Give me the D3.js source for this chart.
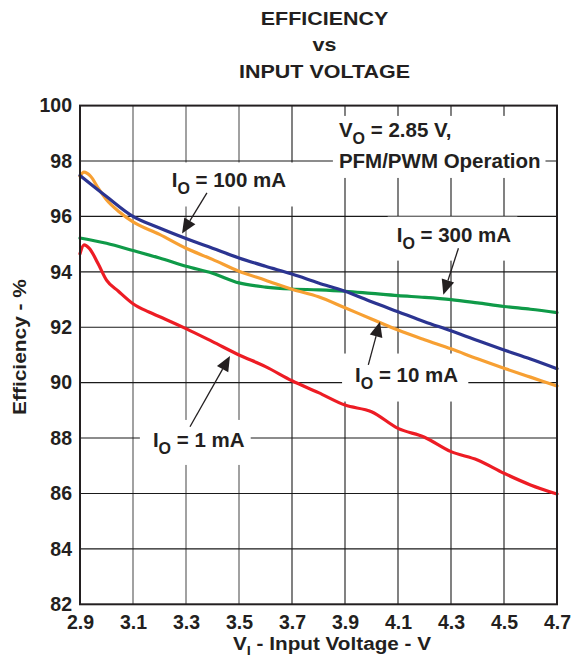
<!DOCTYPE html>
<html>
<head>
<meta charset="utf-8">
<script src="https://cdn.jsdelivr.net/npm/d3@7/dist/d3.min.js"></script>
<style>
  html, body { margin: 0; padding: 0; background: #fff; }
  svg text { font-family: "Liberation Sans", Arial, Helvetica, sans-serif; font-weight: bold; fill: #231f20; }
</style>
</head>
<body>
<svg id="chart" width="582" height="665"></svg>
<script>
// ---------------- DATA ----------------
const titleLines = ["EFFICIENCY", "vs", "INPUT VOLTAGE"];
const xTicks = [2.9, 3.1, 3.3, 3.5, 3.7, 3.9, 4.1, 4.3, 4.5, 4.7];
const yTicks = [82, 84, 86, 88, 90, 92, 94, 96, 98, 100];

// I_O = 100 mA (blue)
const io100V   = [2.9, 3.0, 3.1, 3.2, 3.3, 3.4, 3.5, 3.6, 3.7, 3.8, 3.9, 4.0, 4.1, 4.2, 4.3, 4.4, 4.5, 4.6, 4.7];
const io100Eff = [97.48, 96.72, 96.0, 95.58, 95.2, 94.85, 94.5, 94.2, 93.92, 93.6, 93.3, 92.92, 92.56, 92.2, 91.87, 91.52, 91.18, 90.85, 90.5];

// I_O = 10 mA (orange)
const io10V   = [2.9, 2.915, 2.94, 2.97, 3.0, 3.05, 3.1, 3.2, 3.3, 3.4, 3.5, 3.6, 3.7, 3.8, 3.9, 4.0, 4.1, 4.2, 4.3, 4.4, 4.5, 4.6, 4.7];
const io10Eff = [97.45, 97.6, 97.45, 97.0, 96.6, 96.15, 95.8, 95.35, 94.85, 94.45, 94.02, 93.7, 93.37, 93.1, 92.7, 92.3, 91.9, 91.55, 91.22, 90.86, 90.52, 90.2, 89.88];

// I_O = 300 mA (green)
const io300V   = [2.9, 3.0, 3.1, 3.2, 3.3, 3.4, 3.5, 3.6, 3.7, 3.8, 3.9, 4.0, 4.1, 4.2, 4.3, 4.4, 4.5, 4.6, 4.7];
const io300Eff = [95.22, 95.03, 94.77, 94.5, 94.2, 93.95, 93.6, 93.45, 93.38, 93.35, 93.3, 93.22, 93.14, 93.08, 93.0, 92.88, 92.75, 92.65, 92.53];

// I_O = 1 mA (red)
const io1V   = [2.9, 2.915, 2.935, 2.968, 3.0, 3.045, 3.1, 3.16, 3.22, 3.3, 3.4, 3.5, 3.6, 3.7, 3.8, 3.9, 4.0, 4.1, 4.2, 4.3, 4.4, 4.5, 4.6, 4.7];
const io1Eff = [94.65, 94.97, 94.85, 94.3, 93.7, 93.3, 92.85, 92.55, 92.3, 91.95, 91.48, 91.0, 90.58, 90.07, 89.64, 89.19, 88.95, 88.35, 88.03, 87.51, 87.21, 86.73, 86.31, 85.98];

const seriesNames  = ["I_O = 1 mA", "I_O = 300 mA", "I_O = 10 mA", "I_O = 100 mA"];
const seriesColors = ["#ed1c24", "#0f9a48", "#f7a033", "#2b3491"];

// annotations (text position, arrow from -> tip), all in data units
const annotations = [
  { sub: "O", main: " = 100 mA", tx: 3.246, ty: 97.08, fromX: 3.379, fromY: 96.85, tipX: 3.285, tipY: 95.38, pad: [11, 5, 10, 10] },
  { sub: "O", main: " = 300 mA", tx: 4.095, ty: 95.09, fromX: 4.328, fromY: 94.85, tipX: 4.271, tipY: 93.17, pad: [9, 6, 6, 9] },
  { sub: "O", main: " = 10 mA",  tx: 3.938, ty: 90.04, fromX: 3.988, fromY: 90.64, tipX: 4.032, tipY: 92.20, pad: [13, 9, 10, 10] },
  { sub: "O", main: " = 1 mA",   tx: 3.175, ty: 87.68, fromX: 3.315, fromY: 88.41, tipX: 3.466, tipY: 90.96, pad: [13, 8, 6, 8] }
];
const conditionLines = ["= 2.85 V,", "PFM/PWM Operation"];
const conditionPos = { x: 3.877, y1: 98.87, y2: 97.75 };

// ---------------- CHART ----------------
const svg = d3.select("#chart");
const margin = { left: 80, top: 105.6, right: 557, bottom: 604.3 };

const x = d3.scaleLinear().domain([2.9, 4.7]).range([margin.left, margin.right]);
const y = d3.scaleLinear().domain([82, 100]).range([margin.bottom, margin.top]);

// place a text element with a horizontal stretch (reference glyphs are wider)
function placeText(sel, px, py, sx, rot) {
  return sel.attr("x", 0).attr("y", 0)
    .attr("transform", `translate(${px},${py})${rot ? ` rotate(${rot})` : ""} scale(${sx},1)`);
}

// Title
svg.append("g").selectAll("text").data(titleLines).join("text")
  .each(function (d, i) { placeText(d3.select(this), 324.5, 24.5 + i * 26.7, 1.13); })
  .attr("text-anchor", "middle").attr("font-size", 19)
  .text(d => d);

// Gridlines
const grid = svg.append("g");
grid.selectAll("line.v").data(xTicks.slice(1, -1)).join("line")
  .attr("class", "v")
  .attr("x1", d => x(d)).attr("x2", d => x(d))
  .attr("y1", y(100)).attr("y2", y(82))
  .attr("stroke", d => d <= 3.6 ? "#8a8a8a" : "#1a1a1a")
  .attr("stroke-width", d => d <= 3.6 ? 1.6 : 1.1);
grid.selectAll("line.h").data(yTicks.slice(1, -1)).join("line")
  .attr("class", "h")
  .attr("x1", x(2.9)).attr("x2", x(4.7))
  .attr("y1", d => y(d)).attr("y2", d => y(d))
  .attr("stroke", "#1a1a1a").attr("stroke-width", 1.1);

const boxLayer = svg.append("g");
const lineLayer = svg.append("g");
const textLayer = svg.append("g");

// Frame
svg.append("rect")
  .attr("x", x(2.9)).attr("y", y(100))
  .attr("width", x(4.7) - x(2.9)).attr("height", y(82) - y(100))
  .attr("fill", "none").attr("stroke", "#231f20").attr("stroke-width", 2);

// Axis tick labels via d3 axes
const xAxis = svg.append("g").attr("transform", `translate(0,${y(82)})`)
  .call(d3.axisBottom(x).tickValues(xTicks).tickFormat(d3.format(".1f")).tickSize(0).tickPadding(11));
xAxis.select(".domain").remove();
xAxis.selectAll("text").attr("font-size", 19.5).attr("fill", "#231f20")
  .attr("font-family", "Liberation Sans, Arial, sans-serif").attr("font-weight", "bold");

const yAxis = svg.append("g").attr("transform", `translate(${x(2.9)},0)`)
  .call(d3.axisLeft(y).tickValues(yTicks).tickFormat(d3.format("d")).tickSize(0).tickPadding(8));
yAxis.select(".domain").remove();
yAxis.selectAll("text").attr("font-size", 19.5).attr("fill", "#231f20")
  .attr("font-family", "Liberation Sans, Arial, sans-serif").attr("font-weight", "bold");

// Axis titles
const xt = placeText(svg.append("text"), 332, 650, 1.12).attr("text-anchor", "middle").attr("font-size", 18.5);
xt.append("tspan").text("V");
xt.append("tspan").attr("dy", 5).attr("font-size", 13).text("I");
xt.append("tspan").attr("dy", -5).text(" - Input Voltage - V");

placeText(svg.append("text"), 26, 347, 1.13, -90)
  .attr("text-anchor", "middle").attr("font-size", 18.5)
  .text("Efficiency - %");

// Curves
const allSeries = [
  { v: io1V, e: io1Eff },
  { v: io300V, e: io300Eff },
  { v: io10V, e: io10Eff },
  { v: io100V, e: io100Eff }
];
const line = d3.line().x(d => x(d[0])).y(d => y(d[1])).curve(d3.curveMonotoneX);
lineLayer.selectAll("path").data(allSeries).join("path")
  .attr("d", s => line(s.v.map((v, i) => [v, s.e[i]])))
  .attr("fill", "none")
  .attr("stroke", (s, i) => seriesColors[i])
  .attr("stroke-width", 3.2)
  .attr("stroke-linejoin", "round").attr("stroke-linecap", "round");

// Condition text
const c1 = textLayer.append("text").attr("x", x(conditionPos.x)).attr("y", y(conditionPos.y1)).attr("font-size", 20.5);
c1.append("tspan").text("V");
c1.append("tspan").attr("dy", 7).attr("font-size", 16).text("O");
c1.append("tspan").attr("dy", -7).text(" " + conditionLines[0]);
const c2 = textLayer.append("text").attr("x", x(conditionPos.x)).attr("y", y(conditionPos.y2)).attr("font-size", 20.5)
  .text(conditionLines[1]);
{
  const b1 = c1.node().getBBox(), b2 = c2.node().getBBox();
  const x0 = Math.min(b1.x, b2.x) - 6, x1 = Math.max(b1.x + b1.width, b2.x + b2.width) + 5;
  boxLayer.append("rect").attr("x", x0).attr("y", b1.y - 2).attr("width", x1 - x0)
    .attr("height", b2.y + b2.height - b1.y + 8).attr("fill", "#fff");
}

// Current labels + arrows
annotations.forEach(a => {
  const t = textLayer.append("text").attr("x", x(a.tx)).attr("y", y(a.ty)).attr("font-size", 20.5);
  t.append("tspan").text("I");
  t.append("tspan").attr("dy", 7).attr("font-size", 16).text(a.sub);
  t.append("tspan").attr("dy", -7).text(a.main);
  const b = t.node().getBBox();
  // pad: [left, top, right, bottom]
  boxLayer.append("rect")
    .attr("x", b.x - a.pad[0]).attr("y", b.y - a.pad[1])
    .attr("width", b.width + a.pad[0] + a.pad[2]).attr("height", b.height + a.pad[1] + a.pad[3])
    .attr("fill", "#fff");

  const x0 = x(a.fromX), y0 = y(a.fromY), x1 = x(a.tipX), y1 = y(a.tipY);
  const ang = Math.atan2(y1 - y0, x1 - x0);
  const headLen = 15, headW = 6.5;
  const bx = x1 - headLen * Math.cos(ang), by = y1 - headLen * Math.sin(ang);
  textLayer.append("line")
    .attr("x1", x0).attr("y1", y0).attr("x2", bx).attr("y2", by)
    .attr("stroke", "#231f20").attr("stroke-width", 1.3);
  const px = -Math.sin(ang), py = Math.cos(ang);
  textLayer.append("path")
    .attr("d", `M${x1},${y1}L${bx + px * headW},${by + py * headW}L${bx - px * headW},${by - py * headW}Z`)
    .attr("fill", "#231f20");
});
</script>
</body>
</html>
